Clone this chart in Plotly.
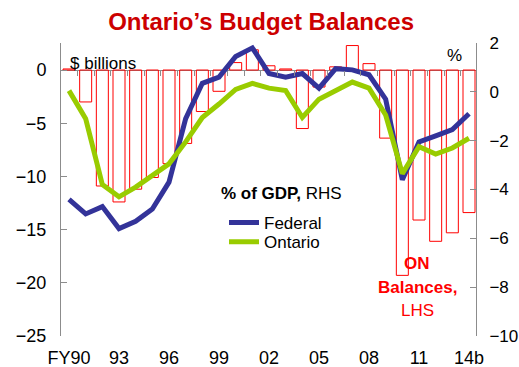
import plotly.graph_objects as go

# ---- data ----
fiscal_years = ["FY90", "FY91", "FY92", "FY93", "FY94", "FY95", "FY96", "FY97", "FY98", "FY99",
                "FY00", "FY01", "FY02", "FY03", "FY04", "FY05", "FY06", "FY07", "FY08", "FY09",
                "FY10", "FY11", "FY12", "FY13", "FY14b"]
on_balances = [0.1, -3.0, -10.9, -12.4, -11.2, -10.1, -8.8, -6.9, -3.9, -2.0,
               0.7, 1.9, 0.4, 0.1, -5.5, -1.6, 0.3, 2.3, 0.6, -6.4,
               -19.3, -14.1, -16.1, -15.3, -13.4]
federal_pct = [-4.4, -5.0, -4.7, -5.6, -5.3, -4.8, -3.7, -1.1, 0.35, 0.6,
               1.45, 1.8, 0.75, 0.6, 0.75, 0.15, 0.95, 0.9, 0.7, -0.3,
               -3.6, -2.05, -1.8, -1.55, -0.9]
ontario_pct = [0.05, -1.1, -3.8, -4.3, -3.9, -3.45, -2.95, -2.05, -1.05, -0.5,
               0.1, 0.35, 0.15, 0.05, -1.05, -0.3, 0.05, 0.4, 0.15, -0.95,
               -3.35, -2.25, -2.55, -2.3, -1.9]
tick_idx = [0, 3, 6, 9, 12, 15, 18, 21, 24]
tick_labels = ["FY90", "93", "96", "99", "02", "05", "08", "11", "14b"]
left_ticks = [0, -5, -10, -15, -20, -25]
right_ticks = [2, 0, -2, -4, -6, -8, -10]

FONT = "Arial, Liberation Sans, sans-serif"
GRAY = "#8c8c8c"
xs = list(range(len(fiscal_years)))

# plot area in pixels
PL, PR, PT, PB = 61, 476, 43, 335.7
def px_x(v):
    return (v - PL) / (PR - PL)
def px_y(v):
    return (PB - v) / (PB - PT)

fig = go.Figure()
fig.add_trace(go.Bar(x=xs, y=on_balances, yaxis="y", xaxis="x",
                     marker=dict(color="rgba(255,255,255,0)", line=dict(color="#ff0000", width=1)),
                     width=0.72, showlegend=False, name="ON Balances"))
fig.add_trace(go.Scatter(x=xs, y=federal_pct, yaxis="y2", mode="lines", name="Federal",
                         line=dict(color="#333399", width=5), legend="legend"))
fig.add_trace(go.Scatter(x=xs, y=ontario_pct, yaxis="y2", mode="lines", name="Ontario",
                         line=dict(color="#99cc00", width=5), legend="legend2"))
fig.add_trace(go.Scatter(x=[None], y=[None], xaxis="x2", showlegend=False, hoverinfo="skip"))

xr = [-0.48, 24.42]
leg_common = dict(xanchor="left", yanchor="top", bgcolor="rgba(0,0,0,0)",
                  font=dict(size=17, family=FONT), itemwidth=30)
fig.update_layout(
    width=519, height=367,
    margin=dict(l=PL, r=519 - PR, t=PT, b=367 - PB, autoexpand=False),
    paper_bgcolor="white", plot_bgcolor="white",
    font=dict(family=FONT, size=18, color="black"),
    title=dict(text="<b>Ontario’s Budget Balances</b>", x=0.503, xref="container", xanchor="center",
               y=1 - 22 / 367, yref="container", yanchor="middle",
               font=dict(size=24, color="#cc0000", family=FONT)),
    xaxis=dict(range=xr, tickvals=tick_idx, ticktext=tick_labels, showline=False, showgrid=False,
               zeroline=False, ticks="", ticklabelstandoff=9, tickfont=dict(size=18)),
    xaxis2=dict(range=xr, overlaying="x", anchor="free", position=px_y(70),
                tickvals=[i + 0.5 for i in range(24)], ticks="outside", ticklen=5, tickcolor=GRAY,
                showticklabels=False, showline=False, showgrid=False, zeroline=False),
    yaxis=dict(range=[-25, 2.54], tickvals=left_ticks, showline=True, linecolor=GRAY, linewidth=1,
               ticks="inside", ticklen=6, tickcolor=GRAY, showgrid=False,
               zeroline=True, zerolinecolor=GRAY, zerolinewidth=1,
               ticklabelstandoff=10, automargin=False, tickfont=dict(size=18)),
    yaxis2=dict(range=[-10, 2.0], tickvals=right_ticks, overlaying="y", side="right",
                showline=True, linecolor=GRAY, linewidth=1, ticks="inside", ticklen=6, tickcolor=GRAY,
                showgrid=False, zeroline=False, ticklabelstandoff=9, automargin=False,
                tickfont=dict(size=17)),
    legend=dict(x=px_x(224), y=px_y(204.7), **leg_common),
    legend2=dict(x=px_x(224), y=px_y(224), **leg_common),
    showlegend=True,
)

ann = [
    dict(text="$ billions", x=68, y=63, xanchor="left"),
    dict(text="%", x=454, y=55, xanchor="center"),
    dict(text="<b>% of GDP,</b> RHS", x=219, y=193, xanchor="left"),
    dict(text="<b>ON</b>", x=417, y=263, xanchor="center", color="#ff0000"),
    dict(text="<b>Balances,</b>", x=417, y=287, xanchor="center", color="#ff0000"),
    dict(text="LHS", x=417, y=310, xanchor="center", color="#ff0000"),
]
for a in ann:
    fig.add_annotation(text=a["text"], xref="paper", yref="paper",
                       x=px_x(a["x"]), y=px_y(a["y"]),
                       xanchor=a["xanchor"], yanchor="middle", showarrow=False,
                       font=dict(size=17, family=FONT, color=a.get("color", "black")))

fig.write_html("out.html")
